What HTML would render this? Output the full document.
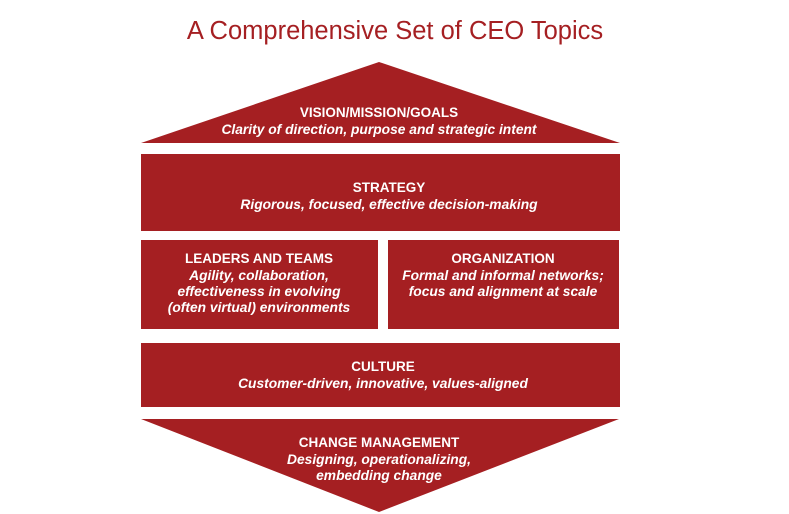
<!DOCTYPE html>
<html><head><style>
body{margin:0;width:789px;height:514px;background:#fff;overflow:hidden;font-family:"Liberation Sans",sans-serif;}
svg{position:absolute;left:0;top:0}
text{fill:#fff;font-family:"Liberation Sans",sans-serif;text-anchor:middle}
.b{font-weight:bold;font-size:13.5px}
.i{font-weight:bold;font-style:italic;font-size:13.8px}
</style></head><body>
<svg width="789" height="514">
<text x="395" y="39" style="fill:#a51f22;font-size:25.5px">A Comprehensive Set of CEO Topics</text>
<g fill="#a51f22">
<polygon points="379,62 620,143 141,143"/>
<rect x="141" y="154" width="479" height="77"/>
<rect x="141" y="240" width="237" height="89"/>
<rect x="388" y="240" width="231" height="89"/>
<rect x="141" y="343" width="479" height="64"/>
<polygon points="141,419 619,419 379,512"/>
</g>
<text class="b" x="379" y="117">VISION/MISSION/GOALS</text>
<text class="i" x="379" y="134">Clarity of direction, purpose and strategic intent</text>
<text class="b" x="389" y="192">STRATEGY</text>
<text class="i" x="389" y="209">Rigorous, focused, effective decision-making</text>
<text class="b" x="259" y="263">LEADERS AND TEAMS</text>
<text class="i" x="259" y="280">Agility, collaboration,</text>
<text class="i" x="259" y="296">effectiveness in evolving</text>
<text class="i" x="259" y="312">(often virtual) environments</text>
<text class="b" x="503" y="263">ORGANIZATION</text>
<text class="i" x="503" y="280">Formal and informal networks;</text>
<text class="i" x="503" y="296">focus and alignment at scale</text>
<text class="b" x="383" y="371">CULTURE</text>
<text class="i" x="383" y="388">Customer-driven, innovative, values-aligned</text>
<text class="b" x="379" y="447">CHANGE MANAGEMENT</text>
<text class="i" x="379" y="464">Designing, operationalizing,</text>
<text class="i" x="379" y="480">embedding change</text>
</svg>
</body></html>
